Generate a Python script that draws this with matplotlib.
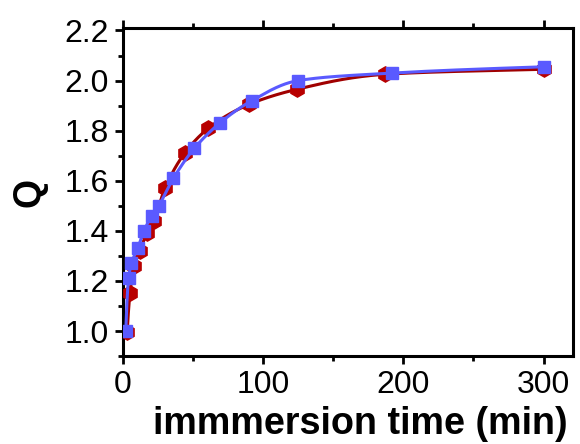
import numpy as np
import matplotlib
matplotlib.use("Agg")
import matplotlib.pyplot as plt
from matplotlib.ticker import MultipleLocator

# Swelling ratio Q versus immersion time
red_t = [3, 5, 8, 12, 17, 22, 30, 44, 61, 90, 124, 187, 300]
red_q = [0.995, 1.15, 1.26, 1.32, 1.39, 1.44, 1.57, 1.71, 1.81, 1.905, 1.965, 2.025, 2.045]

blue_t = [2, 4, 6, 10.5, 15, 20.5, 25.5, 36, 51, 69, 92, 125, 192, 300]
blue_q = [1.00, 1.21, 1.27, 1.33, 1.40, 1.46, 1.50, 1.61, 1.73, 1.83, 1.92, 2.0, 2.03, 2.055]

x_ticks = [0, 100, 200, 300]
y_ticks = [1.0, 1.2, 1.4, 1.6, 1.8, 2.0, 2.2]


def pchip(x, y, xs):
    """Monotone cubic Hermite curve through (x, y)."""
    x = np.asarray(x, float)
    y = np.asarray(y, float)
    h = np.diff(x)
    d = np.diff(y) / h
    m = np.zeros_like(y)
    for k in range(1, len(x) - 1):
        if d[k - 1] * d[k] > 0:
            w1 = 2 * h[k] + h[k - 1]
            w2 = h[k] + 2 * h[k - 1]
            m[k] = (w1 + w2) / (w1 / d[k - 1] + w2 / d[k])
    m[0] = d[0]
    m[-1] = d[-1]
    idx = np.clip(np.searchsorted(x, xs) - 1, 0, len(x) - 2)
    t = (xs - x[idx]) / h[idx]
    h00 = 2 * t**3 - 3 * t**2 + 1
    h10 = t**3 - 2 * t**2 + t
    h01 = -2 * t**3 + 3 * t**2
    h11 = t**3 - t**2
    return (h00 * y[idx] + h10 * h[idx] * m[idx]
            + h01 * y[idx + 1] + h11 * h[idx] * m[idx + 1])


def smooth_curve(t, q, n=800):
    # interpolate on a log-time axis so the long tail bends gently
    s = np.log(np.asarray(t, float))
    ss = np.linspace(s[0], s[-1], n)
    return np.exp(ss), pchip(s, q, ss)


plt.rcParams["font.family"] = ["Liberation Sans", "DejaVu Sans"]

fig = plt.figure(figsize=(5.8, 4.44), dpi=100)
ax = fig.add_axes([0.212, 0.198, 0.776, 0.739])

red_line = "#a00000"
red_mark = "#b80000"
blue = "#5a5aff"

xr, yr = smooth_curve(red_t, red_q)
ax.plot(xr, yr, color=red_line, lw=2.2, zorder=2)
ax.plot(red_t, red_q, ls="none", marker="h", ms=11, color=red_mark,
        mec=red_mark, zorder=3)

xb, yb = smooth_curve(blue_t, blue_q)
ax.plot(xb, yb, color=blue, lw=2.2, zorder=4)
ax.plot(blue_t, blue_q, ls="none", marker="s", ms=8, color=blue,
        mec=blue, zorder=5)

ax.set_xlim(0, 321)
ax.set_ylim(0.9, 2.21)
ax.set_xticks(x_ticks)
ax.set_yticks(y_ticks)
ax.xaxis.set_minor_locator(MultipleLocator(50))
ax.yaxis.set_minor_locator(MultipleLocator(0.1))
ax.set_yticklabels([f"{v:.1f}" for v in y_ticks])

for s in ax.spines.values():
    s.set_linewidth(2.2)

ax.tick_params(axis="both", which="major", direction="out", length=6,
               width=2, labelsize=23, pad=4)
ax.tick_params(axis="both", which="minor", direction="out", length=3.5, width=2)
ax.tick_params(axis="x", which="both", top=True)

ax.set_xlabel("immmersion time (min)", fontsize=27.2, fontweight="bold")
ax.xaxis.set_label_coords(0.527, -0.152)
ax.set_ylabel("Q", fontsize=27, fontweight="bold", labelpad=12)

fig.savefig("out.png", dpi=100)
